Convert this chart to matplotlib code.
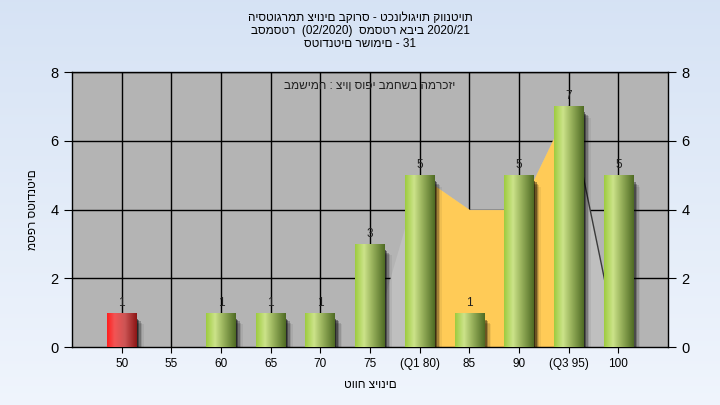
import numpy as np
import matplotlib
matplotlib.use("Agg")
import matplotlib.pyplot as plt
from matplotlib.patches import Rectangle

plt.rcParams['font.family'] = ['Liberation Sans', 'DejaVu Sans']

# data
grades = ['50', '55', '60', '65', '70', '75', '(Q1 80)', '85', '90', '(Q3 95)', '100']
counts = [1, 0, 1, 1, 1, 3, 5, 1, 5, 7, 5]
failing = [True, False, False, False, False, False, False, False, False, False, False]
# background distribution polygon (x slot, height)
area_x = [6, 7, 8, 9, 10, 11]
area_y = [0, 5, 4, 4, 7, 0]
iqr_from, iqr_to = 7, 10

title_lines = ['היסטוגרמת ציונים בקורס - טכנולוגיות קוונטיות',
               'בסמסטר  (02/2020)  סמסטר אביב 2020/21',
               'סטודנטים רשומים - 31']
task_text = 'במשימה : ציון סופי במחשב המרכזי'

fig = plt.figure(figsize=(7.2, 4.05), dpi=100)

# light blue gradient background
bg = fig.add_axes([0, 0, 1, 1], zorder=-10)
grad = np.linspace(0, 1, 256).reshape(-1, 1)
top_c = np.array([0.84, 0.89, 0.96])
bot_c = np.array([0.94, 0.96, 0.99])
img = top_c + (bot_c - top_c) * grad[:, :, None]
bg.imshow(img, aspect='auto', extent=[0, 1, 0, 1], origin='upper')
bg.axis('off')

ax = fig.add_axes([0.1, 0.143, 0.828, 0.679])
ax.set_facecolor('#b4b4b4')
xs = np.arange(1, len(grades) + 1)

# grid
for gx in range(1, 12):
    ax.axvline(gx, color='black', lw=1, zorder=0.5)
for gy in [2, 4, 6, 8]:
    ax.axhline(gy, color='black', lw=1, zorder=0.5)

# distribution area
ax.fill_between(area_x, area_y, 0, color='#bfbfbf', lw=0, zorder=1)
ax_arr = np.array(area_x, dtype=float)
ay_arr = np.array(area_y, dtype=float)
mask = (ax_arr >= iqr_from) & (ax_arr <= iqr_to)
ax.fill_between(ax_arr[mask], ay_arr[mask], 0, color='#ffcb57', lw=0, zorder=1.1)
ax.plot(area_x[-2:], area_y[-2:], color='#3a3a3a', lw=1, zorder=1.2)

# bars with shadow and gradient
width = 0.6
t = np.linspace(0, 1, 64)
green = np.stack([np.interp(t, [0, 0.3, 0.55, 1], c) for c in
                  ([0.62, 0.80, 0.62, 0.31], [0.80, 0.89, 0.72, 0.42], [0.25, 0.54, 0.38, 0.14])], axis=-1)
red = np.stack([np.interp(t, [0, 0.25, 0.6, 1], c) for c in
                ([1.0, 0.95, 0.80, 0.55], [0.12, 0.33, 0.33, 0.09], [0.12, 0.33, 0.33, 0.09])], axis=-1)

for x, v, bad in zip(xs, counts, failing):
    if v == 0:
        continue
    for k, a in enumerate([0.45, 0.35, 0.22, 0.12, 0.06]):
        off = 0.02 + 0.03 * k
        sh = Rectangle((x - width / 2 + off, -0.12), width, v - 0.05 - 0.04 * k, color='black',
                       alpha=a, lw=0, zorder=2)
        ax.add_patch(sh)
    b = ax.bar(x, v, width=width, color='none', lw=0, zorder=3)[0]
    im = ax.imshow((red if bad else green)[None, :, :], aspect='auto', zorder=3,
                   extent=[x - width / 2, x + width / 2, 0, v], interpolation='bilinear')
    im.set_clip_path(b)
    ax.annotate(str(v), (x, v), xytext=(0, 3), textcoords='offset points',
                ha='center', va='bottom', fontsize=8.5, color='#202020', zorder=4)
ax.set_xlim(0, 12)
ax.set_ylim(0, 8)

ax.set_xticks(xs)
ax.set_xticklabels(grades, fontsize=8.5)
ax.set_yticks([0, 2, 4, 6, 8])
ax.tick_params(axis='y', labelsize=10.5, length=6, right=True, labelright=True, direction='out')
ax.tick_params(axis='x', length=4, direction='out', pad=4)
for s in ax.spines.values():
    s.set_color('black')
    s.set_linewidth(1)

ax.set_xlabel('טווח ציונים', fontsize=8.5, labelpad=6)
ax.set_ylabel('מספר סטודנטים', fontsize=8.5, labelpad=8)
ax.text(0.5, 0.95, task_text, transform=ax.transAxes, ha='center', va='center',
        fontsize=8.5, color='#202020', zorder=5)

fig.text(0.5, 0.955, title_lines[0], ha='center', va='center', fontsize=8.5)
fig.text(0.5, 0.923, title_lines[1], ha='center', va='center', fontsize=8.5)
fig.text(0.5, 0.891, title_lines[2], ha='center', va='center', fontsize=8.5)

fig.savefig('out.png', dpi=100)
